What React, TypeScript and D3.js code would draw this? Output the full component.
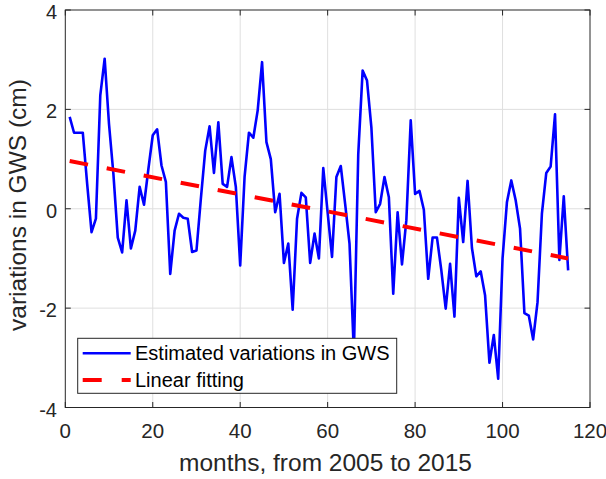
import React, { useEffect, useRef } from "react";
import * as d3 from "d3";

// monthly GWS variations (cm), months 1..115
const months = d3.range(1, 116);
const gws = [
  1.85, 1.53, 1.53, 1.53, 0.5, -0.47, -0.2, 2.28, 3.02, 1.7,
  0.7, -0.58, -0.88, 0.17, -0.8, -0.44, 0.44, 0.08, 0.8, 1.48,
  1.6, 0.87, 0.54, -1.31, -0.44, -0.1, -0.18, -0.2, -0.87, -0.84,
  0.2, 1.17, 1.66, 0.72, 1.74, 0.5, 0.44, 1.04, 0.44, -1.14,
  0.64, 1.53, 1.43, 1.98, 2.95, 1.34, 1.0, -0.07, 0.3, -1.09,
  -0.7, -2.03, -0.2, 0.32, 0.23, -1.09, -0.5, -1.0, 0.82, -0.08,
  -0.97, 0.64, 0.86, 0.1, -0.7, -2.9, 1.1, 2.78, 2.58, 1.64,
  -0.07, 0.1, 0.64, 0.23, -1.71, -0.07, -1.12, -0.23, 1.78, 0.3,
  0.36, -0.02, -1.41, -0.58, -0.58, -1.24, -2.01, -1.11, -2.17, 0.22,
  -0.67, 0.56, -0.79, -1.36, -1.26, -1.74, -3.1, -2.54, -3.42, -1.0,
  0.13, 0.57, 0.17, -0.4, -2.1, -2.15, -2.63, -1.88, -0.1, 0.72,
  0.85, 1.9, -1.03, 0.25, -1.24,
];
// linear fit endpoints [month, value]
const fitLine: [number, number][] = [
  [1, 0.96],
  [115, -1.0],
];
const xTicks = [0, 20, 40, 60, 80, 100, 120];
const yTicks = [-4, -2, 0, 2, 4];
const legendLabels = ["Estimated variations in GWS", "Linear fitting"];

const W = 606;
const H = 479;
const FONT = "'Liberation Sans', Arial, Helvetica, sans-serif";
const INK = "#262626";

export default function App() {
  const svgRef = useRef<SVGSVGElement>(null);

  useEffect(() => {
    document.body.style.margin = "0";
    const svg = d3.select(svgRef.current);
    svg.selectAll("*").remove();

    const x = d3.scaleLinear().domain([0, 120]).range([65.3, 590]);
    const y = d3.scaleLinear().domain([-4, 4]).range([407.5, 10]);
    const [x0, x1] = x.range();
    const [y0, y1] = y.range();

    svg.append("rect").attr("width", W).attr("height", H).attr("fill", "white");

    // grid
    const grid = svg.append("g").attr("stroke", "#dfdfdf").attr("stroke-width", 1);
    xTicks.slice(1, -1).forEach((t) => {
      grid.append("line").attr("x1", x(t)).attr("x2", x(t)).attr("y1", y0).attr("y2", y1);
    });
    yTicks.slice(1, -1).forEach((t) => {
      grid.append("line").attr("x1", x0).attr("x2", x1).attr("y1", y(t)).attr("y2", y(t));
    });

    svg
      .append("clipPath")
      .attr("id", "plot-clip")
      .append("rect")
      .attr("x", x0)
      .attr("y", y1)
      .attr("width", x1 - x0)
      .attr("height", y0 - y1);

    const plot = svg.append("g").attr("clip-path", "url(#plot-clip)");

    const line = d3
      .line<number>()
      .x((d, i) => x(months[i]))
      .y((d) => y(d));

    plot
      .append("path")
      .datum(gws)
      .attr("fill", "none")
      .attr("stroke", "#0000ff")
      .attr("stroke-width", 2.6)
      .attr("stroke-linejoin", "round")
      .attr("d", line);

    plot
      .append("path")
      .datum(fitLine)
      .attr("fill", "none")
      .attr("stroke", "#ff0000")
      .attr("stroke-width", 4)
      .attr("stroke-dasharray", "18.7 19")
      .attr(
        "d",
        d3
          .line<[number, number]>()
          .x((d) => x(d[0]))
          .y((d) => y(d[1]))
      );

    // axes box and ticks
    const ax = svg.append("g").attr("stroke", INK).attr("stroke-width", 1).attr("fill", "none");
    ax.append("rect")
      .attr("x", x0)
      .attr("y", y1)
      .attr("width", x1 - x0)
      .attr("height", y0 - y1);
    xTicks.forEach((t) => {
      ax.append("line").attr("x1", x(t)).attr("x2", x(t)).attr("y1", y0).attr("y2", y0 - 5.5);
      ax.append("line").attr("x1", x(t)).attr("x2", x(t)).attr("y1", y1).attr("y2", y1 + 5.5);
    });
    yTicks.forEach((t) => {
      ax.append("line").attr("x1", x0).attr("x2", x0 + 5.5).attr("y1", y(t)).attr("y2", y(t));
      ax.append("line").attr("x1", x1).attr("x2", x1 - 5.5).attr("y1", y(t)).attr("y2", y(t));
    });

    const txt = svg.append("g").attr("fill", INK).attr("font-family", FONT);

    txt
      .selectAll("text.xt")
      .data(xTicks)
      .enter()
      .append("text")
      .attr("x", (d) => x(d))
      .attr("y", 438)
      .attr("text-anchor", "middle")
      .attr("font-size", 20.5)
      .text((d) => d);

    txt
      .selectAll("text.yt")
      .data(yTicks)
      .enter()
      .append("text")
      .attr("x", 57)
      .attr("y", (d) => y(d) + 9)
      .attr("text-anchor", "end")
      .attr("font-size", 20)
      .text((d) => d);

    txt
      .append("text")
      .attr("x", 325.5)
      .attr("y", 471)
      .attr("text-anchor", "middle")
      .attr("font-size", 24.5)
      .text("months, from 2005 to 2015");

    txt
      .append("text")
      .attr("transform", `translate(26,205) rotate(-90)`)
      .attr("text-anchor", "middle")
      .attr("font-size", 24.5)
      .text("variations in GWS (cm)");

    // legend
    const lg = svg.append("g");
    lg.append("rect")
      .attr("x", 77.7)
      .attr("y", 338.3)
      .attr("width", 319)
      .attr("height", 55)
      .attr("fill", "white")
      .attr("stroke", INK)
      .attr("stroke-width", 1);
    lg.append("line")
      .attr("x1", 82.7)
      .attr("x2", 130.7)
      .attr("y1", 353.3)
      .attr("y2", 353.3)
      .attr("stroke", "#0000ff")
      .attr("stroke-width", 2.6);
    lg.append("line")
      .attr("x1", 82.7)
      .attr("x2", 130.7)
      .attr("y1", 380)
      .attr("y2", 380)
      .attr("stroke", "#ff0000")
      .attr("stroke-width", 4)
      .attr("stroke-dasharray", "19 20");
    lg.selectAll("text")
      .data(legendLabels)
      .enter()
      .append("text")
      .attr("x", 135)
      .attr("y", (d, i) => (i === 0 ? 353.3 : 380) + 7)
      .attr("font-family", FONT)
      .attr("font-size", 20)
      .attr("fill", "#000")
      .text((d) => d);
  }, []);

  return <svg width={W} height={H} ref={svgRef} style={{ display: "block" }}></svg>;
}
